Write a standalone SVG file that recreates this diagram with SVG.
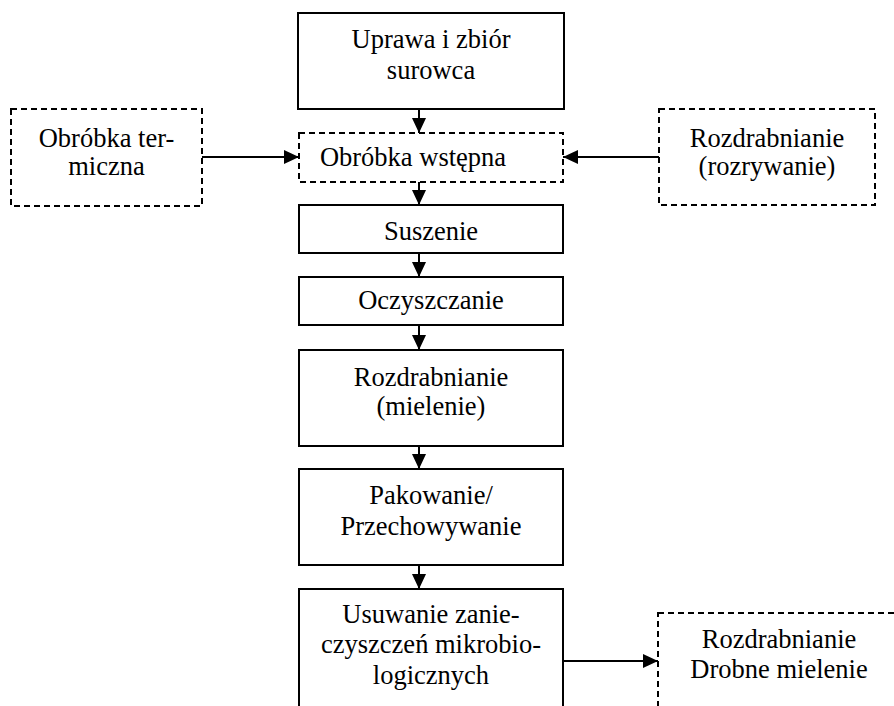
<svg xmlns="http://www.w3.org/2000/svg" width="894" height="706" viewBox="0 0 894 706" font-family="'Liberation Serif', 'Times New Roman', 'DejaVu Serif', serif">
<defs>
<marker id="ah" markerUnits="userSpaceOnUse" markerWidth="15" markerHeight="14" refX="15" refY="7" orient="auto">
<path d="M0,0 L15,7 L0,14 Z" fill="#000"/>
</marker>
<style>
.box{fill:#fff;stroke:#000;stroke-width:2}
.dbox{fill:#fff;stroke:#000;stroke-width:2;stroke-dasharray:6 4}
text{font-family:'Liberation Serif','Times New Roman','DejaVu Serif',serif;font-size:26.5px;fill:#000;text-anchor:middle}
.c line{stroke:#000;stroke-width:2;marker-end:url(#ah)}
</style>
</defs>
<rect width="894" height="706" fill="#fff"/>
<g id="n1"><rect class="box" x="298" y="13" width="266" height="96"/><text x="431" y="48">Uprawa i zbiór</text><text x="431" y="79">surowca</text></g>
<g id="n2"><rect class="dbox" x="299" y="133" width="264" height="49"/><text x="413" y="166">Obróbka wstępna</text></g>
<g id="n3"><rect class="box" x="299" y="205" width="264" height="48"/><text x="431" y="240">Suszenie</text></g>
<g id="n4"><rect class="box" x="299" y="277" width="264" height="48"/><text x="431" y="309">Oczyszczanie</text></g>
<g id="n5"><rect class="box" x="299" y="350" width="264" height="96"/><text x="431" y="386">Rozdrabnianie</text><text x="431" y="415">(mielenie)</text></g>
<g id="n6"><rect class="box" x="299" y="469" width="264" height="96"/><text x="431" y="504">Pakowanie/</text><text x="431" y="535">Przechowywanie</text></g>
<g id="n7"><rect class="box" x="299" y="589" width="264" height="130"/><text x="431" y="623">Usuwanie zanie-</text><text x="431" y="653">czyszczeń mikrobio-</text><text x="431" y="684">logicznych</text></g>
<g id="n8"><rect class="dbox" x="11" y="109" width="191" height="97"/><text x="106.5" y="147">Obróbka ter-</text><text x="106.5" y="175">miczna</text></g>
<g id="n9"><rect class="dbox" x="659" y="109" width="216" height="96"/><text x="767" y="147">Rozdrabnianie</text><text x="767" y="175">(rozrywanie)</text></g>
<g id="n10"><rect class="dbox" x="658" y="613" width="242" height="110"/><text x="779" y="648">Rozdrabnianie</text><text x="779" y="678">Drobne mielenie</text></g>
<g id="connectors" class="c">
<line x1="419" y1="109" x2="419" y2="133"/>
<line x1="419" y1="182" x2="419" y2="205"/>
<line x1="419" y1="253" x2="419" y2="277"/>
<line x1="419" y1="325" x2="419" y2="350"/>
<line x1="419" y1="446" x2="419" y2="469"/>
<line x1="419" y1="565" x2="419" y2="589"/>
<line x1="202" y1="157" x2="299" y2="157"/>
<line x1="659" y1="157" x2="563" y2="157"/>
<line x1="563" y1="661" x2="658" y2="661"/>
</g>
</svg>
